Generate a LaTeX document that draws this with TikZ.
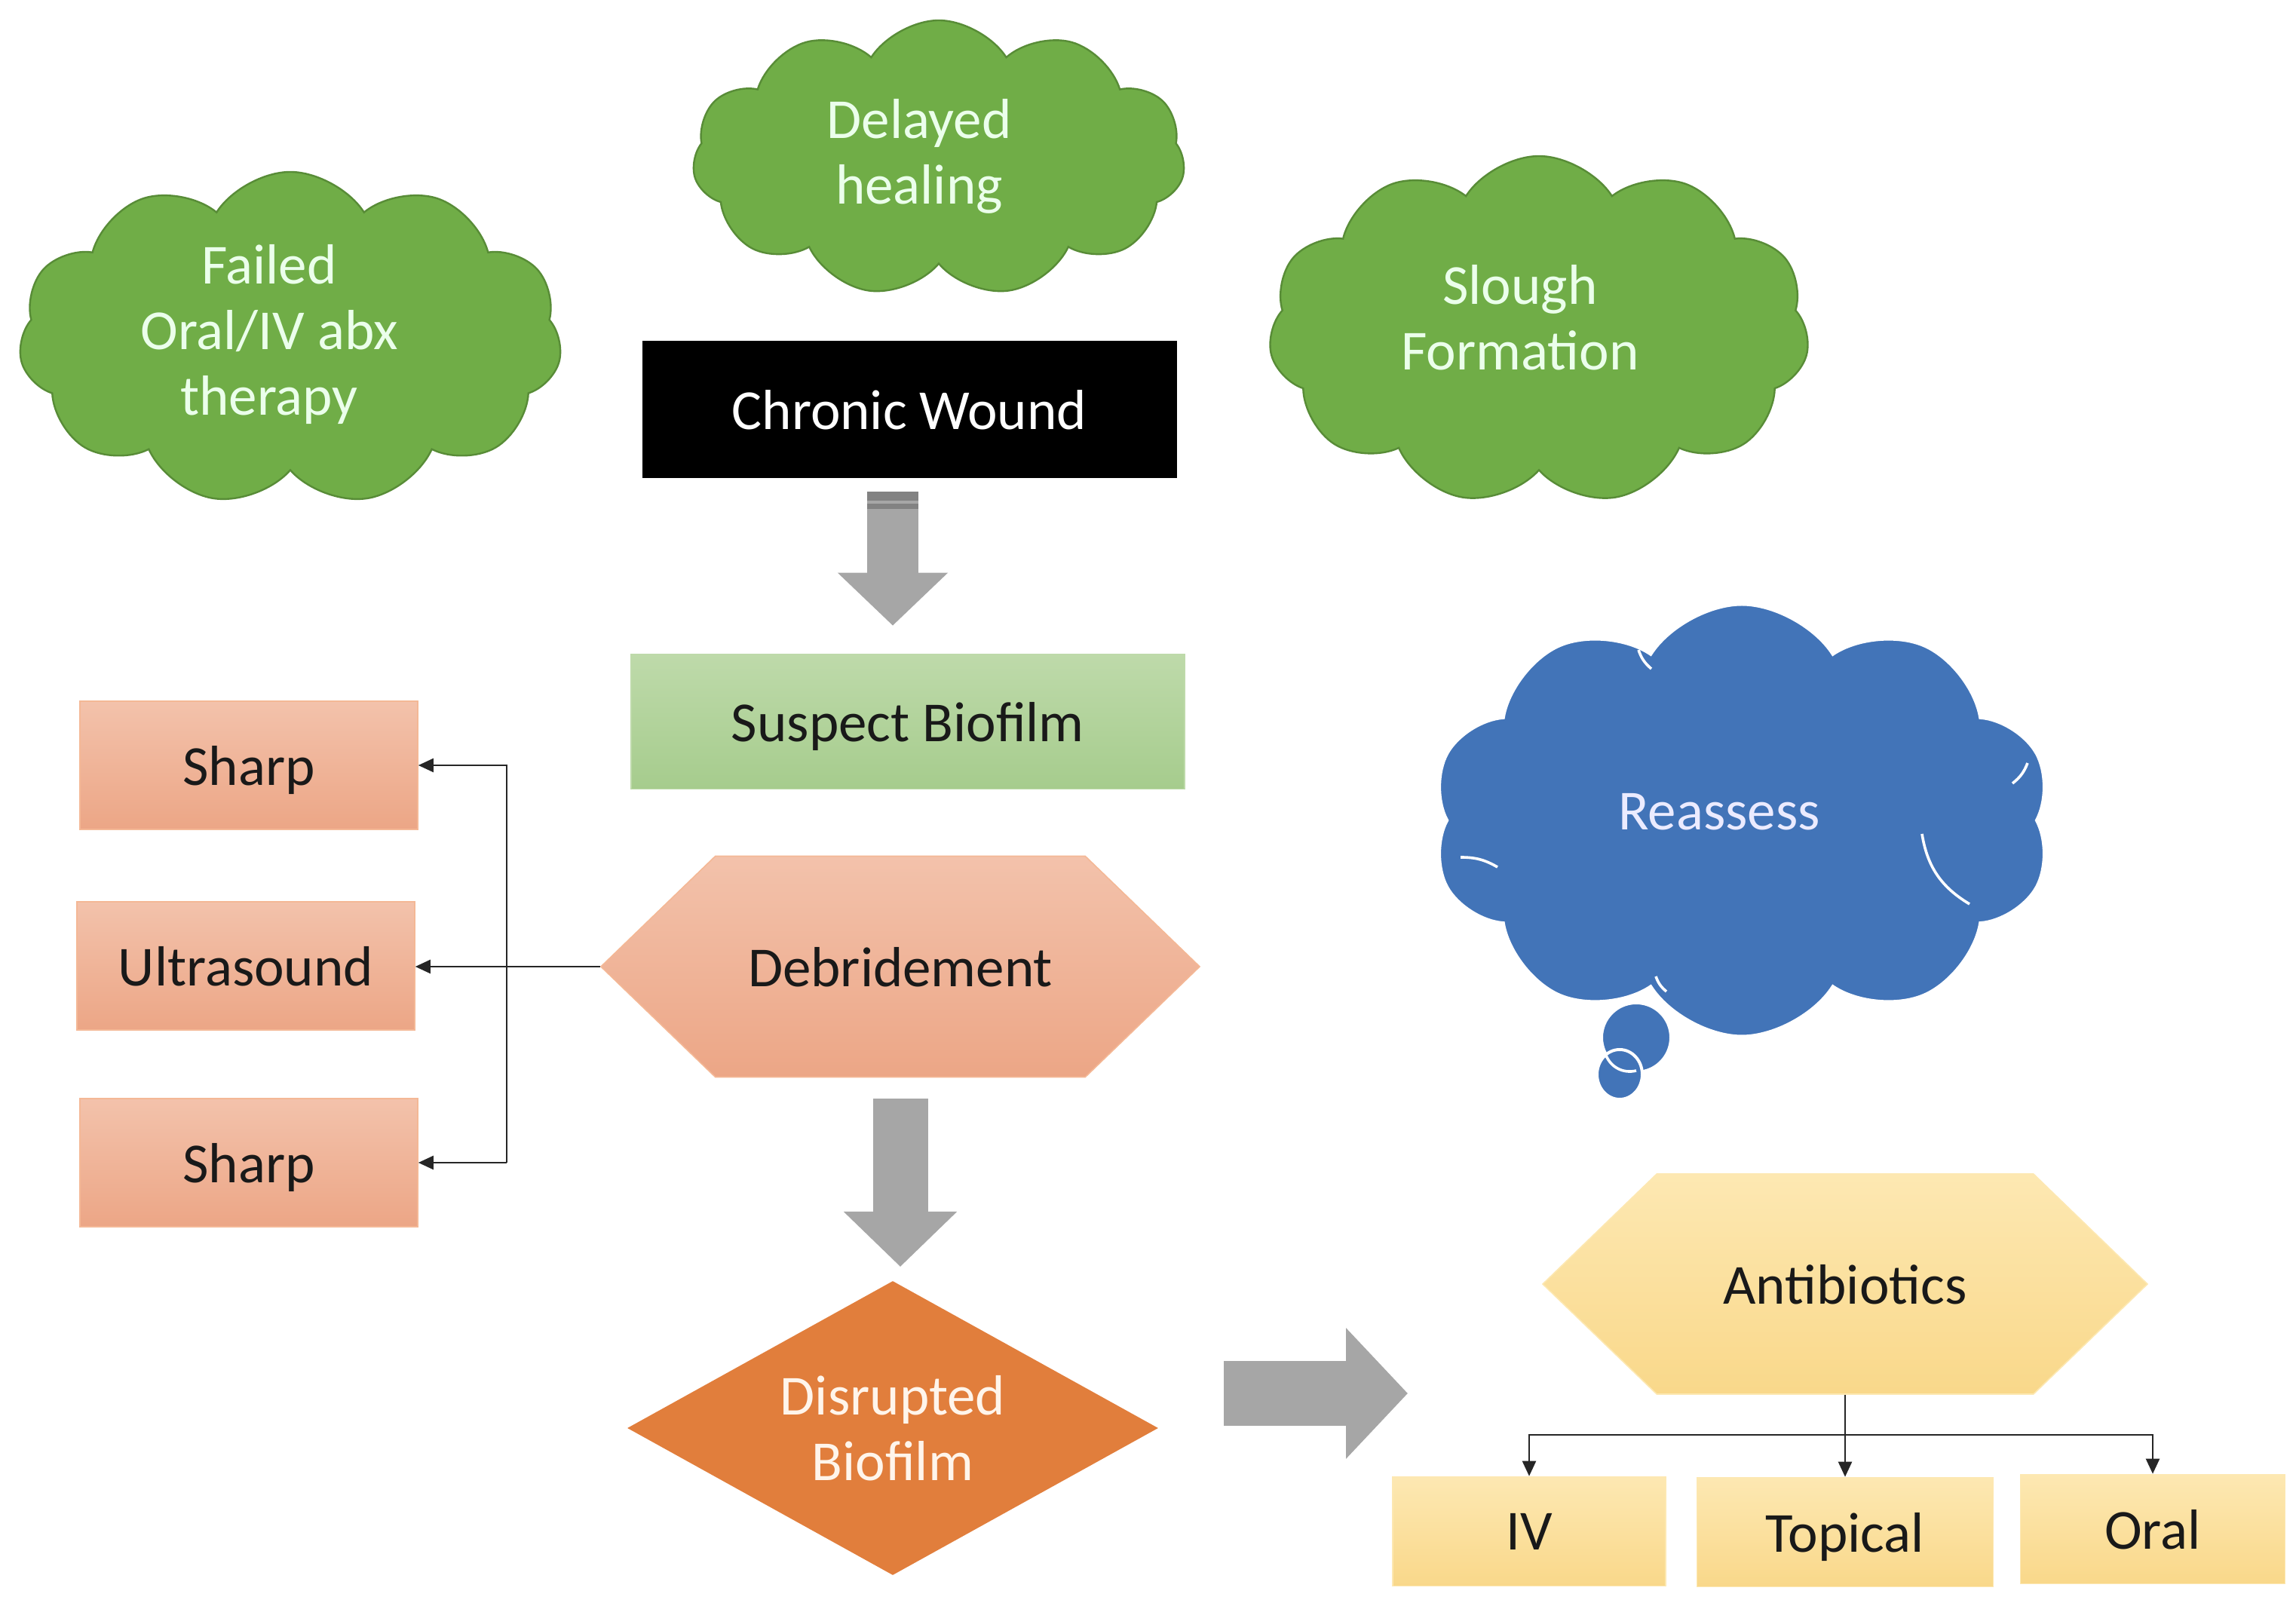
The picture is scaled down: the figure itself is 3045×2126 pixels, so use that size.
\documentclass[tikz,border=0pt]{standalone}
\usepackage{fontspec}
\setmainfont{Carlito}
\usetikzlibrary{shapes.symbols,shapes.geometric,arrows.meta}

\definecolor{leafgreen}{RGB}{112,173,71}
\definecolor{leafline}{RGB}{88,140,55}
\definecolor{thinkblue}{RGB}{66,116,184}
\definecolor{salmontop}{RGB}{243,194,171}
\definecolor{salmonbot}{RGB}{236,166,134}
\definecolor{salmonline}{RGB}{244,184,150}
\definecolor{paletop}{RGB}{190,218,170}
\definecolor{palebot}{RGB}{166,204,141}
\definecolor{yellowtop}{RGB}{253,232,178}
\definecolor{yellowbot}{RGB}{249,216,138}
\definecolor{disruptorange}{RGB}{225,126,60}
\definecolor{blockgray}{RGB}{166,166,166}
\definecolor{blockdark}{RGB}{130,130,130}

\tikzset{every picture/.style={line width=0.75pt}}
\tikzset{
  lbl/.style={font=\fontsize{18.75}{21.75}\selectfont, align=center, inner sep=0pt, text=black!90},
  oneline/.style={lbl, text depth=0pt},
  greencloud/.style={cloud, cloud puffs=11, cloud puff arc=115, cloud ignores aspect,
    fill=leafgreen, draw=leafline, line width=0.6pt},
  greentext/.style={lbl, text=white!92!green},
  bluecloud/.style={cloud, cloud puffs=10, cloud puff arc=115, cloud ignores aspect,
    fill=thinkblue, draw=white, line width=1pt},
  bluetext/.style={lbl, text=blue!8!white},
  blackbox/.style={oneline, rectangle, fill=black, text=white, minimum width=177.25pt, minimum height=45.5pt},
  palebox/.style={oneline, rectangle, top color=paletop, bottom color=palebot, draw=paletop, line width=0.4pt,
    minimum width=183.5pt, minimum height=44.75pt},
  salmonbox/.style={oneline, rectangle, top color=salmontop, bottom color=salmonbot, draw=salmonline, line width=0.4pt,
    minimum width=112pt, minimum height=42.5pt},
  yellowbox/.style={oneline, rectangle, top color=yellowtop, bottom color=yellowbot, draw=yellowtop, line width=0.4pt,
    minimum height=36.25pt},
  hexa/.style={oneline, signal, signal to=west and east, signal pointer angle=88, line width=0.4pt},
  thinarrow/.style={draw=black!85, line width=0.6pt, -{Triangle[length=5pt,width=4.5pt]}},
  blockarrow/.style={draw=blockgray, line cap=butt},
  puffline/.style={draw=white, line width=0.9pt}
}

\begin{document}
\begin{tikzpicture}[x=0.25pt,y=0.25pt,yscale=-1,xscale=1]
\useasboundingbox (0,0) rectangle (3045,2126);

%Shape: Cloud
\node[greencloud, minimum width=163.25pt, minimum height=91.5pt,
  label={[greentext, xshift=-6.5pt, yshift=0.7pt]center:{Delayed\\healing}}] (delayed) at (1245,210) {};
%Shape: Cloud
\node[greencloud, minimum width=180pt, minimum height=110.5pt,
  label={[greentext, xshift=-7pt, yshift=1.4pt]center:{Failed\\Oral/IV abx\\therapy}}] (failed) at (385,449) {};
%Shape: Cloud
\node[greencloud, minimum width=179.25pt, minimum height=115.5pt,
  label={[greentext, xshift=-6.25pt, yshift=4.3pt]center:{Slough\\Formation}}] (slough) at (2041,438) {};
%Shape: Cloud Callout
\node[bluecloud, minimum width=205.5pt, minimum height=143.25pt,
  label={[bluetext, xshift=-7.5pt, yshift=2.8pt]center:{Reassess}}] (reassess) at (2310,1088) {};
\draw[puffline] (2549,1106) to[bend left=25] (2612,1199);
\draw[puffline] (1937,1137) to[bend right=15] (1986,1150);
\draw[puffline] (2173,862) to[bend left=15] (2190,887);
\draw[puffline] (2669,1039) to[bend left=15] (2689,1012);
\draw[puffline] (2196,1295) to[bend left=15] (2210,1315);
\filldraw[fill=thinkblue, draw=white, line width=1pt] (2170,1376) ellipse (11.5pt and 11.5pt);
\filldraw[fill=thinkblue, draw=white, line width=1pt] (2148,1425) ellipse (7.5pt and 8.25pt);
\draw[puffline] (2130,1400) to[bend left=40] (2170,1420);

%Shape: Rectangle
\node[blackbox] (chronic) at (1206,543) {Chronic Wound};
\node[palebox] (suspect) at (1204,957) {Suspect Biofilm};
\node[salmonbox] (sharpA) at (330,1015) {Sharp};
\node[salmonbox] (ultra) at (326,1281) {Ultrasound};
\node[salmonbox] (sharpB) at (330,1542) {Sharp};
%Shape: Hexagon
\node[hexa, top color=salmontop, bottom color=salmonbot, draw=salmonline,
  minimum width=198.5pt, minimum height=73.25pt] (debride) at (1194,1282) {Debridement};
\node[hexa, top color=yellowtop, bottom color=yellowbot, draw=yellowtop,
  minimum width=200.5pt, minimum height=73pt] (antib) at (2447,1703) {Antibiotics};
%Shape: Diamond
\node[lbl, diamond, aspect=1.8, fill=disruptorange, text=orange!8!white, minimum width=176.25pt, minimum height=97.75pt]
  (disrupt) at (1184,1894) {Disrupted\\Biofilm};
%Shape: Rectangle
\node[yellowbox, minimum width=90.5pt] (iv) at (2028,2031) {IV};
\node[yellowbox, minimum width=98.25pt] (topical) at (2447,2032) {Topical};
\node[yellowbox, minimum width=87.75pt] (oral) at (2855,2028) {Oral};

%Block Arrows
\draw[blockarrow, line width=17pt, -{Triangle[width=35.5pt,length=17.5pt]}, shorten <=4.25pt, shorten >=9.25pt]
  ([xshift=-5.5pt]chronic.south) -- ([xshift=-5.5pt]chronic.south |- suspect.north);
\fill[blockdark] (1150,652) rectangle (1218,664);
\fill[blockdark] (1150,668) rectangle (1218,675);
\draw[blockarrow, line width=18.25pt, -{Triangle[width=36.5pt,length=18.25pt]}, shorten <=7pt, shorten >=4.25pt]
  (debride.south) -- (debride.south |- disrupt.north);
\coordinate (gapL) at (1623,1848);
\coordinate (gapR) at (1867,1848);
\draw[blockarrow, line width=21.5pt, -{Triangle[width=42.25pt,length=20.5pt]}] (gapL) -- (gapR);

%Straight Lines
\coordinate (split) at (672,1282);
\draw[thinarrow] (debride.west) -- (debride.west -| ultra.east);
\draw[thinarrow] (split |- sharpB.east) -- (split |- sharpA.east) -- (sharpA.east);
\draw[thinarrow] (split |- sharpB.east) -- (sharpB.east);
\coordinate (fork) at ([yshift=13.25pt]antib.south);
\draw[draw=black!85, line width=0.6pt] (antib.south) -- (fork);
\draw[thinarrow] (fork) -| (iv.north);
\draw[thinarrow] (fork) -- (topical.north);
\draw[thinarrow] (fork) -| (oral.north);

\end{tikzpicture}
\end{document}
